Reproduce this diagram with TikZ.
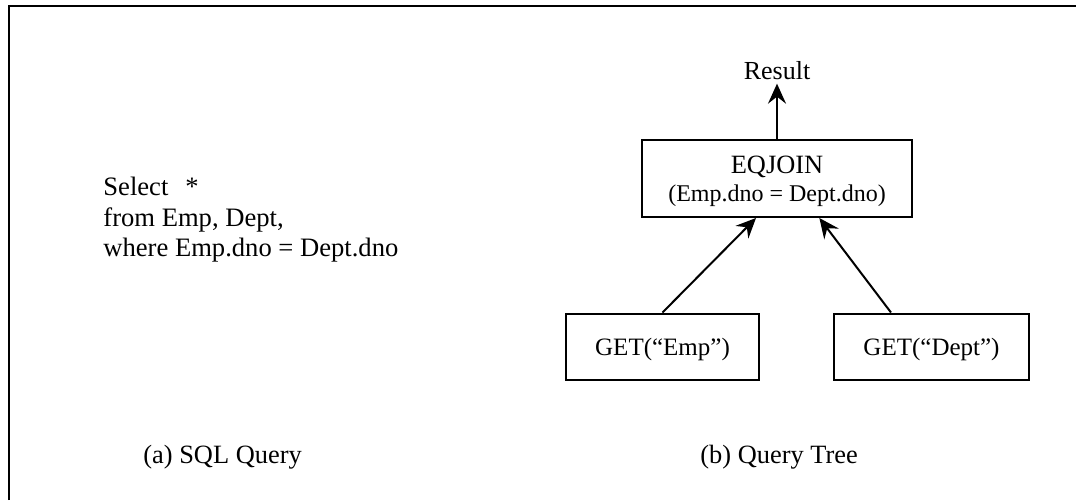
\documentclass[tikz,border=0pt]{standalone}
\usepackage{fontspec}
\setmainfont{Liberation Serif}
\usetikzlibrary{arrows.meta}
\tikzset{
  opbox/.style={draw, line width=1pt, minimum width=96.5pt, minimum height=33pt, inner sep=0pt, text depth=0pt, font=\fontsize{12.5}{15}\selectfont},
  flow/.style={line width=1pt, -{Stealth[length=10pt,width=9pt,inset=3.5pt]}},
  caption/.style={anchor=base west, inner sep=0pt, font=\fontsize{13.2}{15}\selectfont},
}
\begin{document}
\begin{tikzpicture}[x=0.5pt,y=-0.5pt]
 \useasboundingbox (0,0) rectangle (1076,500);
 % frame, only top and left edges show
 \draw [line width=1pt] (9,500) -- (9,5.5) -- (1076,5.5);

 % (a) the query
 \node [anchor=north west, align=left, inner sep=0pt, font=\fontsize{13.3}{15.25}\selectfont] (sql) at (103,177) {Select\hspace{8.5pt}*\\from Emp, Dept,\\where Emp.dno = Dept.dno};
 \node [caption] (capa) at (143,463) {(a) SQL Query};

 % (b) the tree
 \node [anchor=base, inner sep=2pt, font=\fontsize{13}{15}\selectfont] (res) at (777,79) {Result};
 \node [opbox, minimum width=135pt, minimum height=38.5pt, align=center, font=\fontsize{12}{14}\selectfont] (join) at (777,178.5)
   {{\fontsize{13.2}{14}\selectfont EQJOIN}\\{\fontsize{12}{14}\selectfont (Emp.dno = Dept.dno)}};
 \node [opbox] (emp) at (662.5,346.5) {GET(``Emp'')};
 \node [opbox, minimum width=97.5pt] (dept) at (931.5,346.5) {GET(``Dept'')};
 \node [caption] (capb) at (700,463) {(b) Query Tree};

 \draw [flow] (join.north) -- (res.south);
 \draw [flow] (emp.north) -- (join.242.5);
 \draw [flow] (dept.140.6) -- (join.-43.9);

\end{tikzpicture}
\end{document}
